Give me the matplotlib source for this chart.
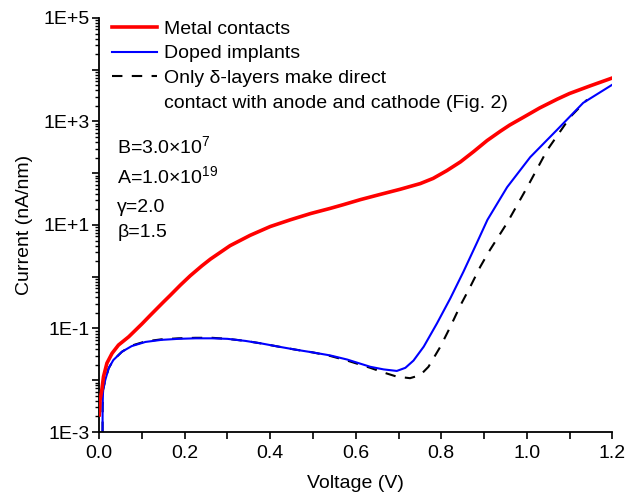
import numpy as np
import matplotlib
matplotlib.use('Agg')
import matplotlib.pyplot as plt
from matplotlib.lines import Line2D
from matplotlib.ticker import LogLocator, FuncFormatter, MultipleLocator

plt.rcParams['font.family'] = ['Liberation Sans', 'DejaVu Sans']
plt.rcParams['mathtext.fontset'] = 'custom'
plt.rcParams['mathtext.rm'] = 'Liberation Sans'
plt.rcParams['mathtext.it'] = 'Liberation Sans'

# Metal contacts: voltage (V) and log10 of current (nA/nm)
metal_v = [0.0, 0.002, 0.006, 0.010, 0.018, 0.030, 0.045, 0.069, 0.10, 0.12, 0.15,
           0.166, 0.19, 0.213, 0.24, 0.26, 0.306, 0.353, 0.40, 0.447, 0.494, 0.54,
           0.57, 0.611, 0.657, 0.704, 0.751, 0.781, 0.813, 0.845, 0.876, 0.907,
           0.938, 0.96, 0.992, 1.03, 1.071, 1.10, 1.149, 1.2]
metal_log = [-2.67, -2.38, -2.19, -1.93, -1.67, -1.48, -1.32, -1.16, -0.91, -0.74, -0.49,
             -0.36, -0.16, 0.02, 0.21, 0.34, 0.60, 0.80, 0.97, 1.10, 1.22, 1.32,
             1.39, 1.49, 1.59, 1.69, 1.80, 1.90, 2.05, 2.22, 2.42, 2.63,
             2.81, 2.93, 3.08, 3.26, 3.43, 3.54, 3.69, 3.84]

# Doped implants
doped_v = [0.0078, 0.0079, 0.009, 0.014, 0.022, 0.033, 0.053, 0.076, 0.108, 0.145,
           0.185, 0.225, 0.264, 0.30, 0.342, 0.38, 0.419, 0.46, 0.498, 0.54, 0.58,
           0.634, 0.665, 0.696, 0.716, 0.735, 0.759, 0.79, 0.821, 0.852, 0.883,
           0.908, 0.954, 1.008, 1.071, 1.132, 1.2]
doped_log = [-3.0, -2.5, -2.19, -2.0, -1.77, -1.61, -1.45, -1.34, -1.26, -1.22,
             -1.20, -1.19, -1.19, -1.20, -1.24, -1.29, -1.35, -1.41, -1.46, -1.52, -1.60,
             -1.74, -1.79, -1.82, -1.76, -1.62, -1.35, -0.90, -0.42, 0.10, 0.65,
             1.10, 1.73, 2.31, 2.84, 3.36, 3.71]

# Only delta-layers make direct contact (Fig. 2)
delta_v = [0.0078, 0.0079, 0.009, 0.014, 0.022, 0.033, 0.053, 0.076, 0.108, 0.145,
           0.185, 0.225, 0.264, 0.30, 0.342, 0.38, 0.419, 0.46, 0.498, 0.54, 0.58,
           0.634, 0.665, 0.696, 0.727, 0.751, 0.77, 0.798, 0.821, 0.845, 0.868,
           0.891, 0.911, 0.954, 1.001, 1.048, 1.102, 1.141]
delta_log = [-3.0, -2.5, -2.19, -2.0, -1.77, -1.61, -1.45, -1.33, -1.25, -1.21,
             -1.19, -1.18, -1.18, -1.20, -1.24, -1.29, -1.35, -1.41, -1.46, -1.53, -1.62,
             -1.76, -1.85, -1.93, -1.96, -1.90, -1.74, -1.35, -0.97, -0.55, -0.19,
             0.19, 0.48, 1.04, 1.73, 2.45, 3.09, 3.42]

legend_labels = ['Metal contacts', 'Doped implants', 'Only \u03b4-layers make direct',
                 'contact with anode and cathode (Fig. 2)']
params = ['B=3.0\u00d710$^{7}$', 'A=1.0\u00d710$^{19}$', '\u03b3=2.0', '\u03b2=1.5']

fig = plt.figure(figsize=(6.28, 4.98), dpi=100)
ax = fig.add_axes([0.158, 0.1325, 0.817, 0.8315])

fs = 14
l1, = ax.plot(metal_v, 10 ** np.array(metal_log), color='#ff0000', lw=2.6, zorder=3)
l3, = ax.plot(delta_v, 10 ** np.array(delta_log), color='black', lw=1.5, ls=(0, (5, 4.5)), zorder=2)
l2, = ax.plot(doped_v, 10 ** np.array(doped_log), color='#0000ff', lw=1.5, zorder=2.5)

ax.set_yscale('log')
ax.set_xlim(0, 1.2)
ax.set_ylim(1e-3, 1e5)

ax.xaxis.set_major_locator(MultipleLocator(0.2))
ax.xaxis.set_minor_locator(MultipleLocator(0.1))
ax.xaxis.set_major_formatter(FuncFormatter(lambda v, p: f'{v:.1f}'))
ax.yaxis.set_major_locator(LogLocator(base=10, numticks=20))
ax.yaxis.set_minor_locator(LogLocator(base=10, subs=np.arange(2, 10), numticks=50))


def ylab(v, p):
    e = int(round(np.log10(v)))
    return f'1E{e:+d}' if e % 2 != 0 else ''


ax.yaxis.set_major_formatter(FuncFormatter(ylab))
ax.yaxis.set_minor_formatter(FuncFormatter(lambda v, p: ''))

for s in ['top', 'right']:
    ax.spines[s].set_visible(False)
for s in ['left', 'bottom']:
    ax.spines[s].set_linewidth(1.3)
ax.tick_params(axis='both', which='major', direction='out', length=5, width=1.2,
               labelsize=fs)
ax.tick_params(axis='x', which='major', pad=4)
ax.tick_params(axis='y', which='major', pad=1.5)
ax.tick_params(axis='y', which='minor', direction='out', length=3, width=1.0)
ax.tick_params(axis='x', which='minor', direction='out', length=5, width=1.2)

ax.set_xlabel('Voltage (V)', fontsize=fs, labelpad=10)
ax.set_ylabel('Current (nA/nm)', fontsize=fs, labelpad=8)

blank = Line2D([], [], color='none')
ax.legend([l1, l2, l3, blank], legend_labels, loc='upper left', frameon=False,
          fontsize=fs, handlelength=2.3, handletextpad=0.35, labelspacing=0.37,
          borderaxespad=0.0, borderpad=0.0, bbox_to_anchor=(0.025, 0.995))

ys = [0.674, 0.601, 0.531, 0.470]
for t, y in zip(params, ys):
    ax.text(0.035, y, t, transform=ax.transAxes, fontsize=fs, va='baseline', ha='left')

fig.savefig('out.png', dpi=100)
